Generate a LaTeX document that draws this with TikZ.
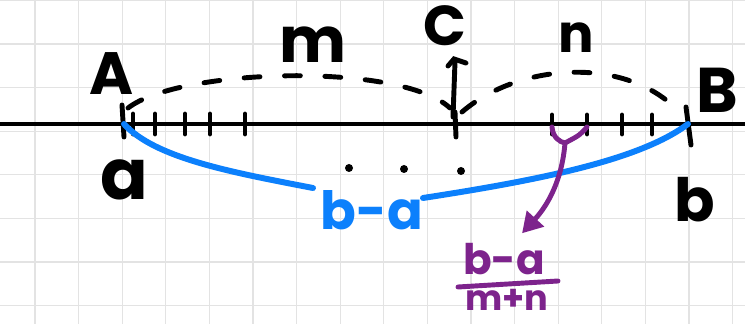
\documentclass[tikz,border=0pt]{standalone}
\usepackage{fontspec}
\setmainfont{Poppins}
\usetikzlibrary{arrows.meta,positioning}

\definecolor{inkblue}{RGB}{12,128,252}
\definecolor{inkpurple}{RGB}{125,35,140}

\begin{document}
\begin{tikzpicture}[
      x=0.02cm, y=-0.02cm,
      grid/.style={draw=gray!22, line width=0.7pt},
      ink/.style={line width=2.8pt, line cap=round},
      tick/.style={ink},
      arc/.style={ink, dash pattern=on 9pt off 14pt},
      brace/.style={line width=3.4pt, line cap=round, draw=inkblue},
      arr/.style={line width=2.8pt, line cap=round, draw=inkpurple, -{Triangle[length=4mm, width=4.5mm]}},
      lbl/.style={inner sep=0pt, font=\bfseries},
    ]
    \useasboundingbox[fill=white] (0,0) rectangle (745,324);
    % squared paper
    \foreach \i in {0,...,16} \draw[grid] (35+43.6*\i,0) -- (35+43.6*\i,324);
    \foreach \j in {0,...,7} \draw[grid] (0,0.4+43.6*\j) -- (745,0.4+43.6*\j);

    % the number line
    \coordinate (pA) at (124,124);
    \coordinate (pC) at (455,124);
    \coordinate (pB) at (688,124);
    \draw[ink] (0,124) -- (745,124);
    \draw[tick] (122,105) -- (124,137);
    \draw[tick] (455,112) -- (456,137);
    \draw[tick] (686,107) -- (691,145);
    \foreach \x in {133,155,185,210,245} \draw[tick] (\x,114) -- (\x,134);
    \foreach \x in {552,587,622,652} \draw[tick] (\x,115) -- (\x,134);

    % up arrow to C
    \draw[ink] (453,117) -- (455,62);
    \draw[ink] (448,66) -- (454,59) -- (466,63);

    % labels
    \node[lbl, font=\fontsize{34}{36}\selectfont\bfseries] (lA) at (112,74) {A};
    \node[lbl, font=\fontsize{40}{44}\selectfont\bfseries] (la) at (124,180) {a};
    \node[lbl, font=\fontsize{36}{40}\selectfont\bfseries] (lm) at (313,45) {m};
    \node[lbl, font=\fontsize{32}{34}\selectfont\bfseries] (lC) at (445,26) {C};
    \node[lbl, font=\fontsize{30}{34}\selectfont\bfseries] (ln) at (576,38) {n};
    \node[lbl, font=\fontsize{36}{38}\selectfont\bfseries] (lB) at (717,90) {B};
    \node[lbl, font=\fontsize{34}{38}\selectfont\bfseries] (lb) at (695,200) {b};

    % dashed arcs m and n
    \draw[arc] (128,108) .. controls (180,68) and (400,62) .. (450,108);
    \draw[arc] (462,112) .. controls (520,62) and (630,55) .. (682,115);

    % dots below the line
    \foreach \x/\y in {349/168,404/169,461/171} \fill (\x,\y) circle (4);

    % length b-a
    \node[lbl, text=inkblue, font=\fontsize{30}{34}\selectfont\bfseries] (len) at (372,210) {b-a};
    \coordinate (l1) at (313,188);
    \coordinate (r1) at (423,198);
    \draw[brace] (pA) .. controls (155,158) and (230,172) .. (l1);
    \draw[brace] (r1) .. controls (540,180) and (640,160) .. (pB);

    % one part of it
    \node[lbl, text=inkpurple, font=\fontsize{24}{26}\selectfont\bfseries,
          text height=15pt, text depth=0pt, anchor=base] (fnum) at (504,275) {b-a};
    \node[lbl, text=inkpurple, font=\fontsize{20}{24}\selectfont\bfseries,
          text height=12pt, text depth=0pt, anchor=base] (fden) at (507,311) {m+n};
    \draw[ink, draw=inkpurple] (458,287) -- (558,281);
    \coordinate (yj) at (565,143);
    \draw[ink, draw=inkpurple] (552,127) .. controls (553,138) and (560,142) .. (yj);
    \draw[ink, draw=inkpurple] (587,127) .. controls (580,135) .. (yj);
    \draw[arr] (yj) .. controls (562,180) and (548,205) .. ([xshift=0.36cm, yshift=0.3cm]fnum.north);
  \end{tikzpicture}
\end{document}
